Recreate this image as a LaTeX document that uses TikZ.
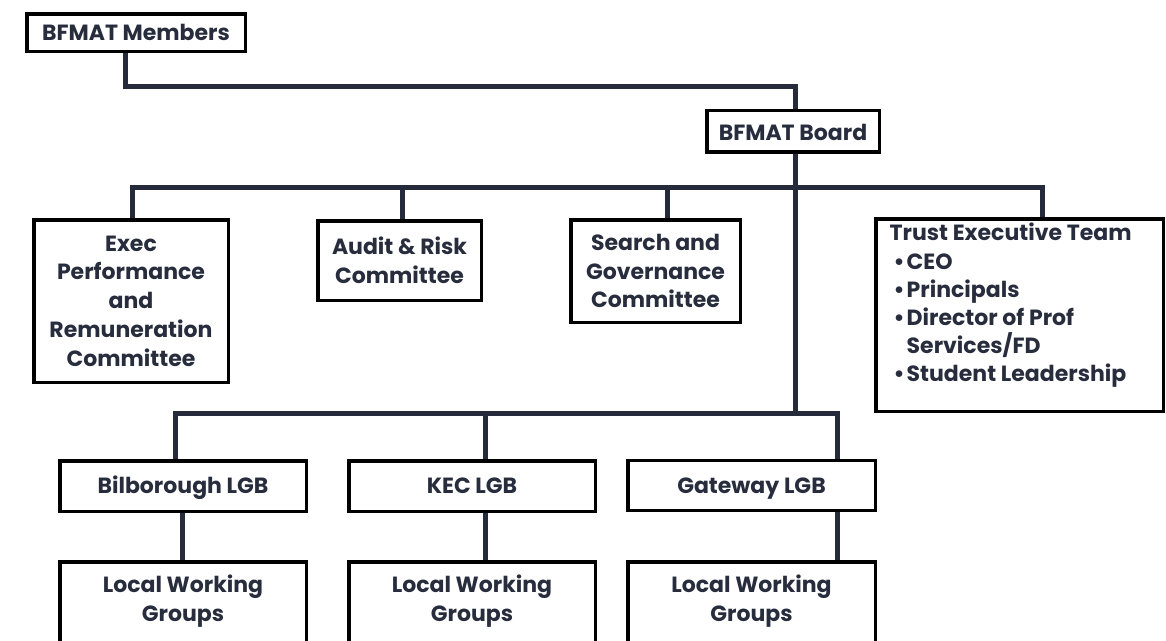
\documentclass[tikz,border=0pt]{standalone}
\usepackage{fontspec}
\setmainfont{Poppins}
\definecolor{linec}{RGB}{38,43,60}
\definecolor{textc}{RGB}{40,45,62}
\tikzset{
  box/.style={draw=black, line width=3.5pt, fill=white, inner sep=0pt, align=center,
    text=textc, font=\fontsize{22}{28.7}\selectfont\bfseries},
  one/.style={text height=16pt, text depth=1pt},
  conn/.style={draw=linec, line width=5pt, line join=miter},
  txt/.style={text=textc, inner sep=0pt, align=left, font=\fontsize{22}{28.2}\selectfont\bfseries},
  lbl/.style={text=textc, inner sep=0pt, align=center, font=\fontsize{22}{28.5}\selectfont\bfseries}
}
\begin{document}
\begin{tikzpicture}[x=1pt,y=-1pt]
\useasboundingbox (0,0) rectangle (1166,640);
\clip (0,0) rectangle (1166,640);
\coordinate (topbus) at (0,187);
\coordinate (membus) at (0,86);
\coordinate (lowbus) at (0,413);
% boxes
\node[box, one, minimum width=218.5pt, minimum height=37.5pt] (members) at (136,32.5) {BFMAT Members};
\node[box, text height=20pt, text depth=0.6pt, minimum width=172.5pt, minimum height=41.5pt] (board) at (793,131) {BFMAT Board};
\node[box, minimum width=194.5pt, minimum height=162.5pt] (exec) at (131,301) {Exec\\Performance\\and\\Remuneration\\Committee};
\node[box, minimum width=163.5pt, minimum height=79.5pt] (audit) at (399.5,260.5) {Audit \& Risk\\Committee};
\node[box, minimum width=169.5pt, minimum height=102.5pt] (search) at (655.5,271) {Search and\\Governance\\Committee};
\node[box, minimum width=287.5pt, minimum height=192.5pt] (trust) at (1019.5,315) {};
\node[txt, anchor=north west] (trusttext) at ([shift={(15.5pt,-6pt)}]trust.north west) {Trust Executive Team\\
\hspace*{4pt}\makebox[13pt][l]{•}CEO\\
\hspace*{4pt}\makebox[13pt][l]{•}Principals\\
\hspace*{4pt}\makebox[13pt][l]{•}Director of Prof\\
\hspace*{17pt}Services/FD\\
\hspace*{4pt}\makebox[13pt][l]{•}Student Leadership};
\node[box, one, minimum width=246.5pt, minimum height=50.5pt] (bilb) at (183,486) {Bilborough LGB};
\node[box, one, minimum width=246.5pt, minimum height=50.5pt] (kec) at (472,486) {KEC LGB};
\node[box, one, minimum width=247.5pt, minimum height=50pt] (gate) at (751.5,485.5) {Gateway LGB};
\node[box, minimum width=246.5pt, minimum height=86.5pt] (lwg1) at (183,605) {};
\node[box, minimum width=246.5pt, minimum height=86.5pt] (lwg2) at (472,605) {};
\node[box, minimum width=247.5pt, minimum height=86.5pt] (lwg3) at (751.5,605) {};
\node[lbl, anchor=north] (lwg1t) at ([yshift=-15pt]lwg1.north) {Local Working\\Groups};
\node[lbl, anchor=north] (lwg2t) at ([yshift=-15pt]lwg2.north) {Local Working\\Groups};
\node[lbl, anchor=north] (lwg3t) at ([yshift=-15pt]lwg3.north) {Local Working\\Groups};
% connectors
\draw[conn] ([xshift=-11pt]members.south) |- ([xshift=2pt]board.north |- membus) -- ([xshift=2pt]board.north);
\draw[conn] ([xshift=2pt]board.south) -- ([xshift=2pt]board.south |- lowbus);
\draw[conn] ([xshift=1pt]exec.north) |- ([xshift=22.5pt]trust.north |- topbus) -- ([xshift=22.5pt]trust.north);
\draw[conn] ([xshift=2.5pt]audit.north) -- ([xshift=2.5pt]audit.north |- topbus);
\draw[conn] ([xshift=11.5pt]search.north) -- ([xshift=11.5pt]search.north |- topbus);
\draw[conn] ([xshift=-8pt]bilb.north) |- ([xshift=85.5pt]gate.north |- lowbus) -- ([xshift=85.5pt]gate.north);
\draw[conn] ([xshift=13pt]kec.north) -- ([xshift=13pt]kec.north |- lowbus);
\draw[conn] ([xshift=-1pt]bilb.south) -- ([xshift=-1pt]lwg1.north);
\draw[conn] ([xshift=13pt]kec.south) -- ([xshift=13pt]lwg2.north);
\draw[conn] ([xshift=85.5pt]gate.south) -- ([xshift=85.5pt]lwg3.north);
\end{tikzpicture}
\end{document}
